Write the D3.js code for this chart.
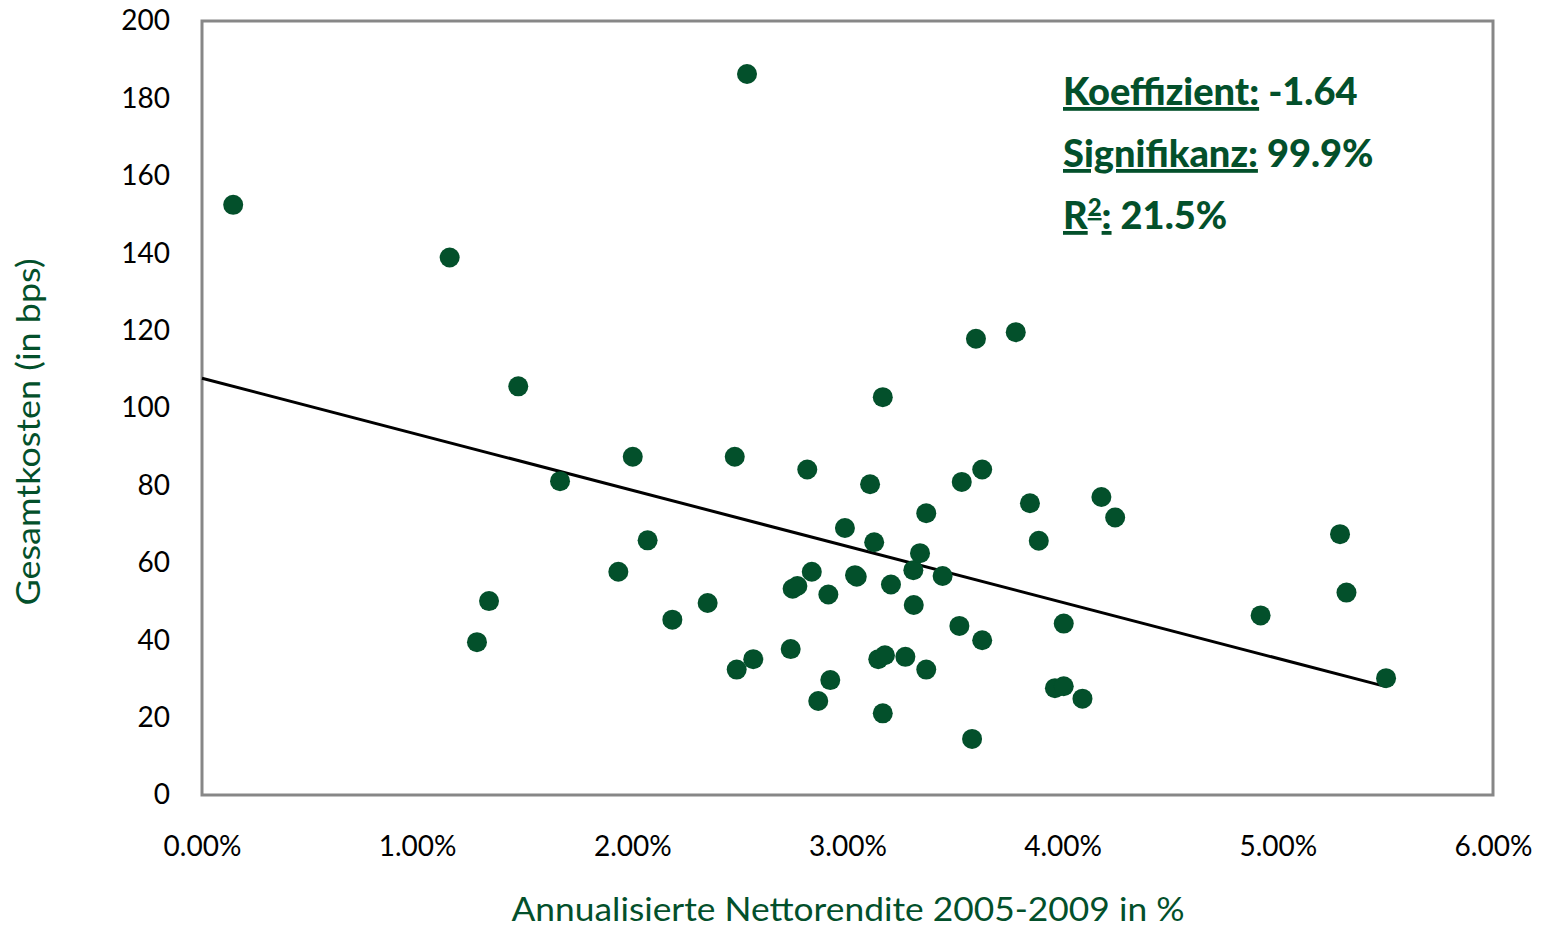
<!DOCTYPE html>
<html>
<head>
<meta charset="utf-8">
<script src="https://cdn.jsdelivr.net/npm/d3@7"></script>
<style>
  body { margin: 0; background: #ffffff; }
  text { font-family: Lato, "Open Sans", sans-serif; }
</style>
</head>
<body>
<div id="chart"></div>
<script>
// Annualised net return (%) and total cost (bps) per fund
const returns = [0.145, 1.151, 1.470, 1.664, 1.278, 1.334, 1.935, 2.002, 2.071, 2.186,
  2.350, 2.476, 2.533, 2.485, 2.562, 2.736, 2.745, 2.767, 2.813, 2.834,
  2.864, 2.911, 2.920, 2.988, 3.035, 3.043, 3.105, 3.124, 3.143, 3.164,
  3.164, 3.174, 3.202, 3.269, 3.308, 3.306, 3.337, 3.366, 3.366, 3.442,
  3.520, 3.531, 3.579, 3.597, 3.626, 3.626, 3.782, 3.848, 3.889, 3.964,
  4.005, 4.005, 4.092, 4.180, 4.244, 4.920, 5.289, 5.319, 5.503];
const costs = [152.5, 138.9, 105.6, 81.1, 39.5, 50.1, 57.7, 87.4, 65.8, 45.3,
  49.6, 87.4, 186.3, 32.4, 35.1, 37.7, 53.3, 54.0, 84.1, 57.7,
  24.3, 51.8, 29.7, 69.0, 56.8, 56.4, 80.3, 65.3, 35.1, 21.1,
  102.8, 36.1, 54.4, 35.7, 49.1, 58.1, 62.5, 72.8, 32.4, 56.6,
  43.7, 80.9, 14.5, 117.9, 40.0, 84.1, 119.6, 75.4, 65.7, 27.6,
  28.1, 44.3, 24.9, 77.0, 71.7, 46.4, 67.4, 52.3, 30.2];

// trendline end points (as drawn in Excel)
const trendX = [0, 5.503];
const trendY = [107.7, 28.0];

const xTicks = [0, 1, 2, 3, 4, 5, 6];
const yTicks = [0, 20, 40, 60, 80, 100, 120, 140, 160, 180, 200];

const stats = [
  { label: "Koeffizient:", value: "-1.64" },
  { label: "Signifikanz:", value: "99.9%" },
  { label: "R", sup: "2", tail: ":", value: "21.5%" }
];

const width = 1544, height = 930;
const margin = { left: 202, right: 51, top: 21, bottom: 135 };
const green = "#03502b";

const svg = d3.select("#chart")
  .append("svg")
  .attr("width", width)
  .attr("height", height);

const x = d3.scaleLinear().domain([0, 6]).range([margin.left, width - margin.right]);
const y = d3.scaleLinear().domain([0, 200]).range([height - margin.bottom, margin.top]);

// plot frame
svg.append("rect")
  .attr("x", x(0))
  .attr("y", y(200))
  .attr("width", x(6) - x(0))
  .attr("height", y(0) - y(200))
  .attr("fill", "none")
  .attr("stroke", "#878787")
  .attr("stroke-width", 3);

// axes (labels only, frame draws the lines)
const xAxis = svg.append("g")
  .attr("transform", `translate(0, ${y(0)})`)
  .call(d3.axisBottom(x).tickValues(xTicks).tickSize(0).tickPadding(41)
    .tickFormat(d => d.toFixed(2) + "%"));
xAxis.select(".domain").remove();
xAxis.selectAll("text")
  .style("font-family", "Lato, sans-serif")
  .style("font-size", "28px")
  .attr("fill", "#000");

const yAxis = svg.append("g")
  .attr("transform", `translate(${x(0)}, 0)`)
  .call(d3.axisLeft(y).tickValues(yTicks).tickSize(0).tickPadding(32));
yAxis.select(".domain").remove();
yAxis.selectAll("text")
  .style("font-family", "Lato, sans-serif")
  .style("font-size", "28px")
  .attr("fill", "#000");

// axis titles
svg.append("text")
  .attr("x", 848)
  .attr("y", 921)
  .attr("text-anchor", "middle")
  .attr("fill", green)
  .style("font-size", "32px")
  .attr("textLength", 673)
  .attr("lengthAdjust", "spacingAndGlyphs")
  .text("Annualisierte Nettorendite 2005-2009 in %");

svg.append("text")
  .attr("transform", "translate(40, 432) rotate(-90)")
  .attr("text-anchor", "middle")
  .attr("fill", green)
  .style("font-size", "33px")
  .attr("textLength", 347)
  .attr("lengthAdjust", "spacingAndGlyphs")
  .text("Gesamtkosten (in bps)");

// trendline
svg.append("line")
  .attr("x1", x(trendX[0]))
  .attr("y1", y(trendY[0]))
  .attr("x2", x(trendX[1]))
  .attr("y2", y(trendY[1]))
  .attr("stroke", "#000")
  .attr("stroke-width", 3);

// points
svg.append("g")
  .selectAll("circle")
  .data(returns.map((r, i) => ({ r: r, c: costs[i] })))
  .enter()
  .append("circle")
  .attr("cx", d => x(d.r))
  .attr("cy", d => y(d.c))
  .attr("r", 10)
  .attr("fill", green);

// regression stats
const statText = svg.append("g")
  .selectAll("text")
  .data(stats)
  .enter()
  .append("text")
  .attr("x", 1063)
  .attr("y", (d, i) => 105 + i * 62)
  .attr("fill", green)
  .style("font-size", "38px")
  .style("font-weight", "900");

statText.each(function(d) {
  const t = d3.select(this);
  if (d.sup) {
    t.append("tspan").style("text-decoration", "underline").text(d.label);
    t.append("tspan").attr("dy", -13).style("font-size", "24px")
      .style("text-decoration", "underline").text(d.sup);
    t.append("tspan").attr("dy", 13).style("text-decoration", "underline").text(d.tail);
  } else {
    t.append("tspan").style("text-decoration", "underline").text(d.label);
  }
  t.append("tspan").text(" " + d.value);
});
</script>
</body>
</html>
